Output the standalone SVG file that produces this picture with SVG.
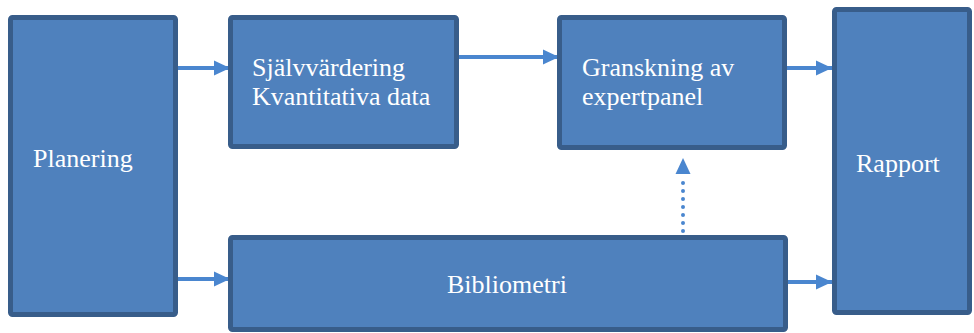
<svg xmlns="http://www.w3.org/2000/svg" width="974" height="333" viewBox="0 0 974 333">
  <style>
    .box { fill: #4f81bd; stroke: #385d8a; stroke-width: 5; }
    .label { font-family: "Liberation Serif", "Times New Roman", serif; font-size: 26px; fill: #ffffff; }
    .conn { stroke: #4a86cf; stroke-width: 4; fill: none; }
    .dotted { stroke: #4a86cf; stroke-width: 4; stroke-linecap: round; stroke-dasharray: 0 8; fill: none; }
  </style>
  <defs>
    <marker id="head" markerUnits="userSpaceOnUse" markerWidth="16" markerHeight="16" viewBox="0 0 16 16" refX="16" refY="8" orient="auto">
      <path d="M0,0.5 L16,8 L0,15.5 Z" fill="#4a86cf"/>
    </marker>
  </defs>

  <g id="connectors">
    <line class="conn" x1="178" y1="68" x2="230" y2="68" marker-end="url(#head)"/>
    <line class="conn" x1="459" y1="57" x2="559" y2="57" marker-end="url(#head)"/>
    <line class="conn" x1="787" y1="68" x2="832" y2="68" marker-end="url(#head)"/>
    <line class="conn" x1="178" y1="279" x2="230" y2="279" marker-end="url(#head)"/>
    <line class="conn" x1="788" y1="282" x2="832" y2="282" marker-end="url(#head)"/>
    <line class="dotted" x1="683" y1="231" x2="683" y2="175"/>
    <path d="M675.5,174 L683,158 L690.5,174 Z" fill="#4a86cf"/>
  </g>

  <g id="planering">
    <rect class="box" x="10.5" y="17.5" width="165" height="297" rx="2"/>
    <text class="label" x="33" y="167">Planering</text>
  </g>

  <g id="sjalvvardering">
    <rect class="box" x="230.5" y="17.5" width="226" height="129" rx="2"/>
    <text class="label" x="252" y="76">Självvärdering</text>
    <text class="label" x="252" y="105">Kvantitativa data</text>
  </g>

  <g id="granskning">
    <rect class="box" x="559.5" y="17.5" width="225" height="130" rx="2"/>
    <text class="label" x="582" y="76">Granskning av</text>
    <text class="label" x="582" y="105">expertpanel</text>
  </g>

  <g id="rapport">
    <rect class="box" x="834.5" y="9.5" width="135" height="303" rx="2"/>
    <text class="label" x="856" y="172">Rapport</text>
  </g>

  <g id="bibliometri">
    <rect class="box" x="230.5" y="237.5" width="555" height="92" rx="2"/>
    <text class="label" x="447" y="293">Bibliometri</text>
  </g>
</svg>
